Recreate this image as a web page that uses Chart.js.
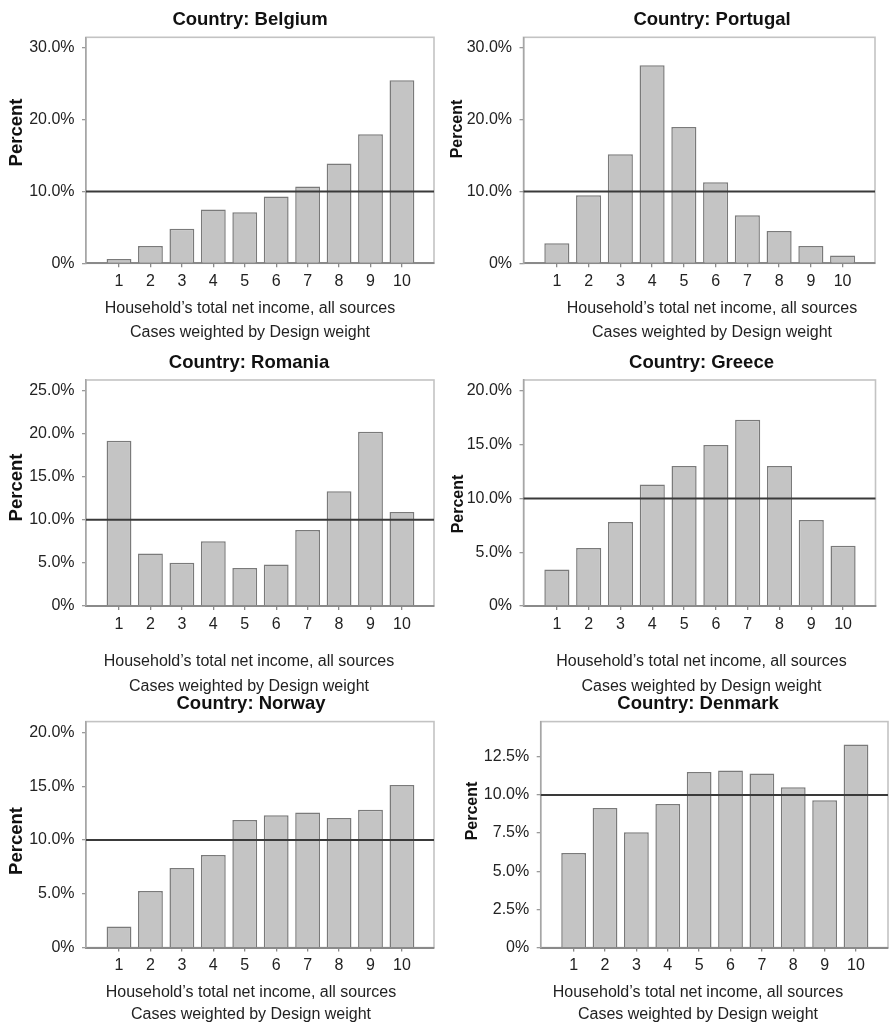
<!DOCTYPE html>
<html>
<head>
<meta charset="utf-8">
<title>Household income deciles by country</title>
<script src="https://cdn.jsdelivr.net/npm/chart.js@4.4.1/dist/chart.umd.min.js"></script>
<style>
  html, body { margin: 0; padding: 0; background: #fff; overflow: hidden; }
  #page { position: relative; width: 889px; height: 1024px; overflow: hidden; background: #fff; }
  #page canvas { position: absolute; }
</style>
</head>
<body>
<div id="page"></div>
<script>
// Income deciles (x categories)
const INCOME_DECILES = [1, 2, 3, 4, 5, 6, 7, 8, 9, 10];

// Share of households per decile, percent
const BELGIUM  = [0.6, 2.4, 4.8, 7.5, 7.1, 9.3, 10.7, 13.9, 18.0, 25.5];
const PORTUGAL = [2.8, 9.5, 15.2, 27.6, 19.0, 11.3, 6.7, 4.5, 2.4, 1.1];
const ROMANIA  = [19.15, 6.1, 5.0, 7.5, 4.4, 4.8, 8.8, 13.3, 20.2, 10.9];
const GREECE   = [3.4, 5.4, 7.8, 11.3, 13.0, 14.95, 17.3, 13.0, 8.0, 5.6];
const NORWAY   = [1.95, 5.25, 7.4, 8.6, 11.85, 12.3, 12.55, 12.05, 12.8, 15.1];
const DENMARK  = [6.2, 9.15, 7.55, 9.4, 11.5, 11.6, 11.4, 10.5, 9.65, 13.3];

// Even split across ten deciles
const REFERENCE_LEVEL = 10;

// Y-axis tick values, percent
const TICKS_BELGIUM  = [0, 10, 20, 30];
const TICKS_PORTUGAL = [0, 10, 20, 30];
const TICKS_ROMANIA  = [0, 5, 10, 15, 20, 25];
const TICKS_GREECE   = [0, 5, 10, 15, 20];
const TICKS_NORWAY   = [0, 5, 10, 15, 20];
const TICKS_DENMARK  = [0, 2.5, 5, 7.5, 10, 12.5];

const X_LABEL = 'Household\u2019s total net income, all sources';
const WEIGHT_NOTE = 'Cases weighted by Design weight';
const Y_LABEL = 'Percent';

const FONT = "'Liberation Sans', Arial, Helvetica, sans-serif";
Chart.defaults.font.family = FONT;
Chart.defaults.color = '#222';

// Page layout of the six panels (plot box edges in page pixels)
const BOX_H = 226;
const TITLE_SIZE = 18.5;
const TITLE_PAD = { top: 8.6, bottom: 6.4 };
const TITLE_BLOCK = TITLE_PAD.top + TITLE_SIZE * 1.2 + TITLE_PAD.bottom;

const PANELS = [
  { country: 'Belgium',  values: BELGIUM,  ticks: TICKS_BELGIUM,  yMax: 31.5, col: 0,
    box: { l: 86, t: 37.3, r: 434 },    center: 250,   axisH: 33,   noteLH: 24, yCap: { x: 17,    y: 132.5, size: 18.5 } },
  { country: 'Portugal', values: PORTUGAL, ticks: TICKS_PORTUGAL, yMax: 31.5, col: 445,
    box: { l: 523.5, t: 37.3, r: 875 }, center: 712,   axisH: 33,   noteLH: 24, yCap: { x: 458,   y: 129,   size: 16 } },
  { country: 'Romania',  values: ROMANIA,  ticks: TICKS_ROMANIA,  yMax: 26.2, col: 0,
    box: { l: 86, t: 380, r: 434 },     center: 249,   axisH: 43.5, noteLH: 25, yCap: { x: 17,    y: 487.5, size: 18.5 } },
  { country: 'Greece',   values: GREECE,   ticks: TICKS_GREECE,   yMax: 21.0, col: 445,
    box: { l: 523.5, t: 380, r: 875.5 },center: 701.5, axisH: 43.5, noteLH: 25, yCap: { x: 459,   y: 504,   size: 16 } },
  { country: 'Norway',   values: NORWAY,   ticks: TICKS_NORWAY,   yMax: 21.0, col: 0,
    box: { l: 86, t: 721.6, r: 434 },   center: 251,   axisH: 34,   noteLH: 22, yCap: { x: 17,    y: 841,   size: 18.5 } },
  { country: 'Denmark',  values: DENMARK,  ticks: TICKS_DENMARK,  yMax: 14.8, col: 445,
    box: { l: 540.7, t: 721.6, r: 888 },center: 698,   axisH: 34,   noteLH: 22, yCap: { x: 472.5, y: 811,   size: 16 } }
];

function pctLabel(v) {
  return v === 0 ? '0%' : v.toFixed(1) + '%';
}

// Light frame around the plot area
const plotFrame = {
  id: 'plotFrame',
  beforeDraw(chart) {
    const a = chart.chartArea, ctx = chart.ctx;
    ctx.save();
    ctx.strokeStyle = '#c3c3c3';
    ctx.lineWidth = 1.6;
    ctx.strokeRect(a.left, a.top, a.right - a.left, a.bottom - a.top);
    ctx.restore();
  }
};

// Horizontal line at the even-share level
const referenceLine = {
  id: 'referenceLine',
  afterDatasetsDraw(chart) {
    const a = chart.chartArea, ctx = chart.ctx;
    const y = chart.scales.y.getPixelForValue(REFERENCE_LEVEL);
    ctx.save();
    ctx.strokeStyle = '#3a3a3a';
    ctx.lineWidth = 2;
    ctx.beginPath();
    ctx.moveTo(a.left, y);
    ctx.lineTo(a.right, y);
    ctx.stroke();
    ctx.restore();
  }
};

// Rotated caption for the value axis
const axisCaption = {
  id: 'axisCaption',
  afterDraw(chart, args, opts) {
    const ctx = chart.ctx;
    ctx.save();
    ctx.translate(opts.x, opts.y);
    ctx.rotate(-Math.PI / 2);
    ctx.font = 'bold ' + opts.size + 'px ' + FONT;
    ctx.fillStyle = '#111';
    ctx.textAlign = 'center';
    ctx.textBaseline = 'middle';
    ctx.fillText(opts.text, 0, 0);
    ctx.restore();
  }
};

const page = document.getElementById('page');

PANELS.forEach(p => {
  const cw = Math.round(2 * (p.center - p.col));
  const rawTop = p.box.t - TITLE_BLOCK;
  const ct = Math.floor(rawTop);
  const padTop = rawTop - ct;
  const needH = padTop + TITLE_BLOCK + BOX_H + p.axisH + 2 * p.noteLH;
  const ch = Math.ceil(needH);
  const padBottom = ch - needH;

  const canvas = document.createElement('canvas');
  canvas.width = cw;
  canvas.height = ch;
  canvas.style.left = p.col + 'px';
  canvas.style.top = ct + 'px';
  canvas.style.width = cw + 'px';
  canvas.style.height = ch + 'px';
  page.appendChild(canvas);

  const leftW = p.box.l - p.col;
  const rightW = cw - (p.box.r - p.col);

  new Chart(canvas, {
    type: 'bar',
    data: {
      datasets: [{
        data: INCOME_DECILES.map((d, i) => ({ x: d, y: p.values[i] })),
        backgroundColor: '#c4c4c4',
        borderColor: '#7a7a7a',
        borderWidth: 1.5,
        barPercentage: 0.79,
        categoryPercentage: 1
      }]
    },
    options: {
      responsive: false,
      animation: false,
      events: [],
      layout: { padding: { top: padTop, bottom: padBottom, left: 0, right: 0 } },
      scales: {
        x: {
          type: 'linear',
          min: -0.05,
          max: 11.02,
          offset: false,
          afterBuildTicks: s => { s.ticks = INCOME_DECILES.map(v => ({ value: v })); },
          afterFit: s => { s.height = p.axisH; },
          ticks: { font: { size: 16 }, color: '#222', padding: 4.8, maxRotation: 0, autoSkip: false,
                   callback: v => String(v) },
          grid: { display: true, drawOnChartArea: false, drawTicks: true, tickLength: 4,
                  color: '#8a8a8a', lineWidth: 1.3, offset: false },
          border: { display: true, color: '#8a8a8a', width: 2 }
        },
        y: {
          type: 'linear',
          min: 0,
          max: p.yMax,
          afterBuildTicks: s => { s.ticks = p.ticks.map(v => ({ value: v })); },
          afterFit: s => { s.width = leftW; },
          ticks: { font: { size: 16 }, color: '#222', padding: 7.5, callback: v => pctLabel(v) },
          grid: { display: true, drawOnChartArea: false, drawTicks: true, tickLength: 4,
                  color: '#9a9a9a', lineWidth: 1.3 },
          border: { display: true, color: '#a6a6a6', width: 1.5 }
        },
        gutter: {
          type: 'linear',
          position: 'right',
          display: true,
          afterFit: s => { s.width = rightW; },
          ticks: { display: false },
          grid: { display: false, drawTicks: false },
          border: { display: false }
        }
      },
      plugins: {
        legend: { display: false },
        tooltip: { enabled: false },
        title: {
          display: true,
          text: 'Country: ' + p.country,
          color: '#111',
          font: { size: TITLE_SIZE, weight: 'bold', lineHeight: 1.2 },
          padding: TITLE_PAD
        },
        subtitle: {
          display: true,
          position: 'bottom',
          text: [X_LABEL, WEIGHT_NOTE],
          color: '#222',
          font: { size: 16, weight: 'normal', lineHeight: p.noteLH / 16 },
          padding: { top: 0, bottom: 0 }
        },
        axisCaption: {
          text: Y_LABEL,
          x: p.yCap.x - p.col,
          y: p.yCap.y - ct,
          size: p.yCap.size
        }
      }
    },
    plugins: [plotFrame, referenceLine, axisCaption]
  });
});
</script>
</body>
</html>
